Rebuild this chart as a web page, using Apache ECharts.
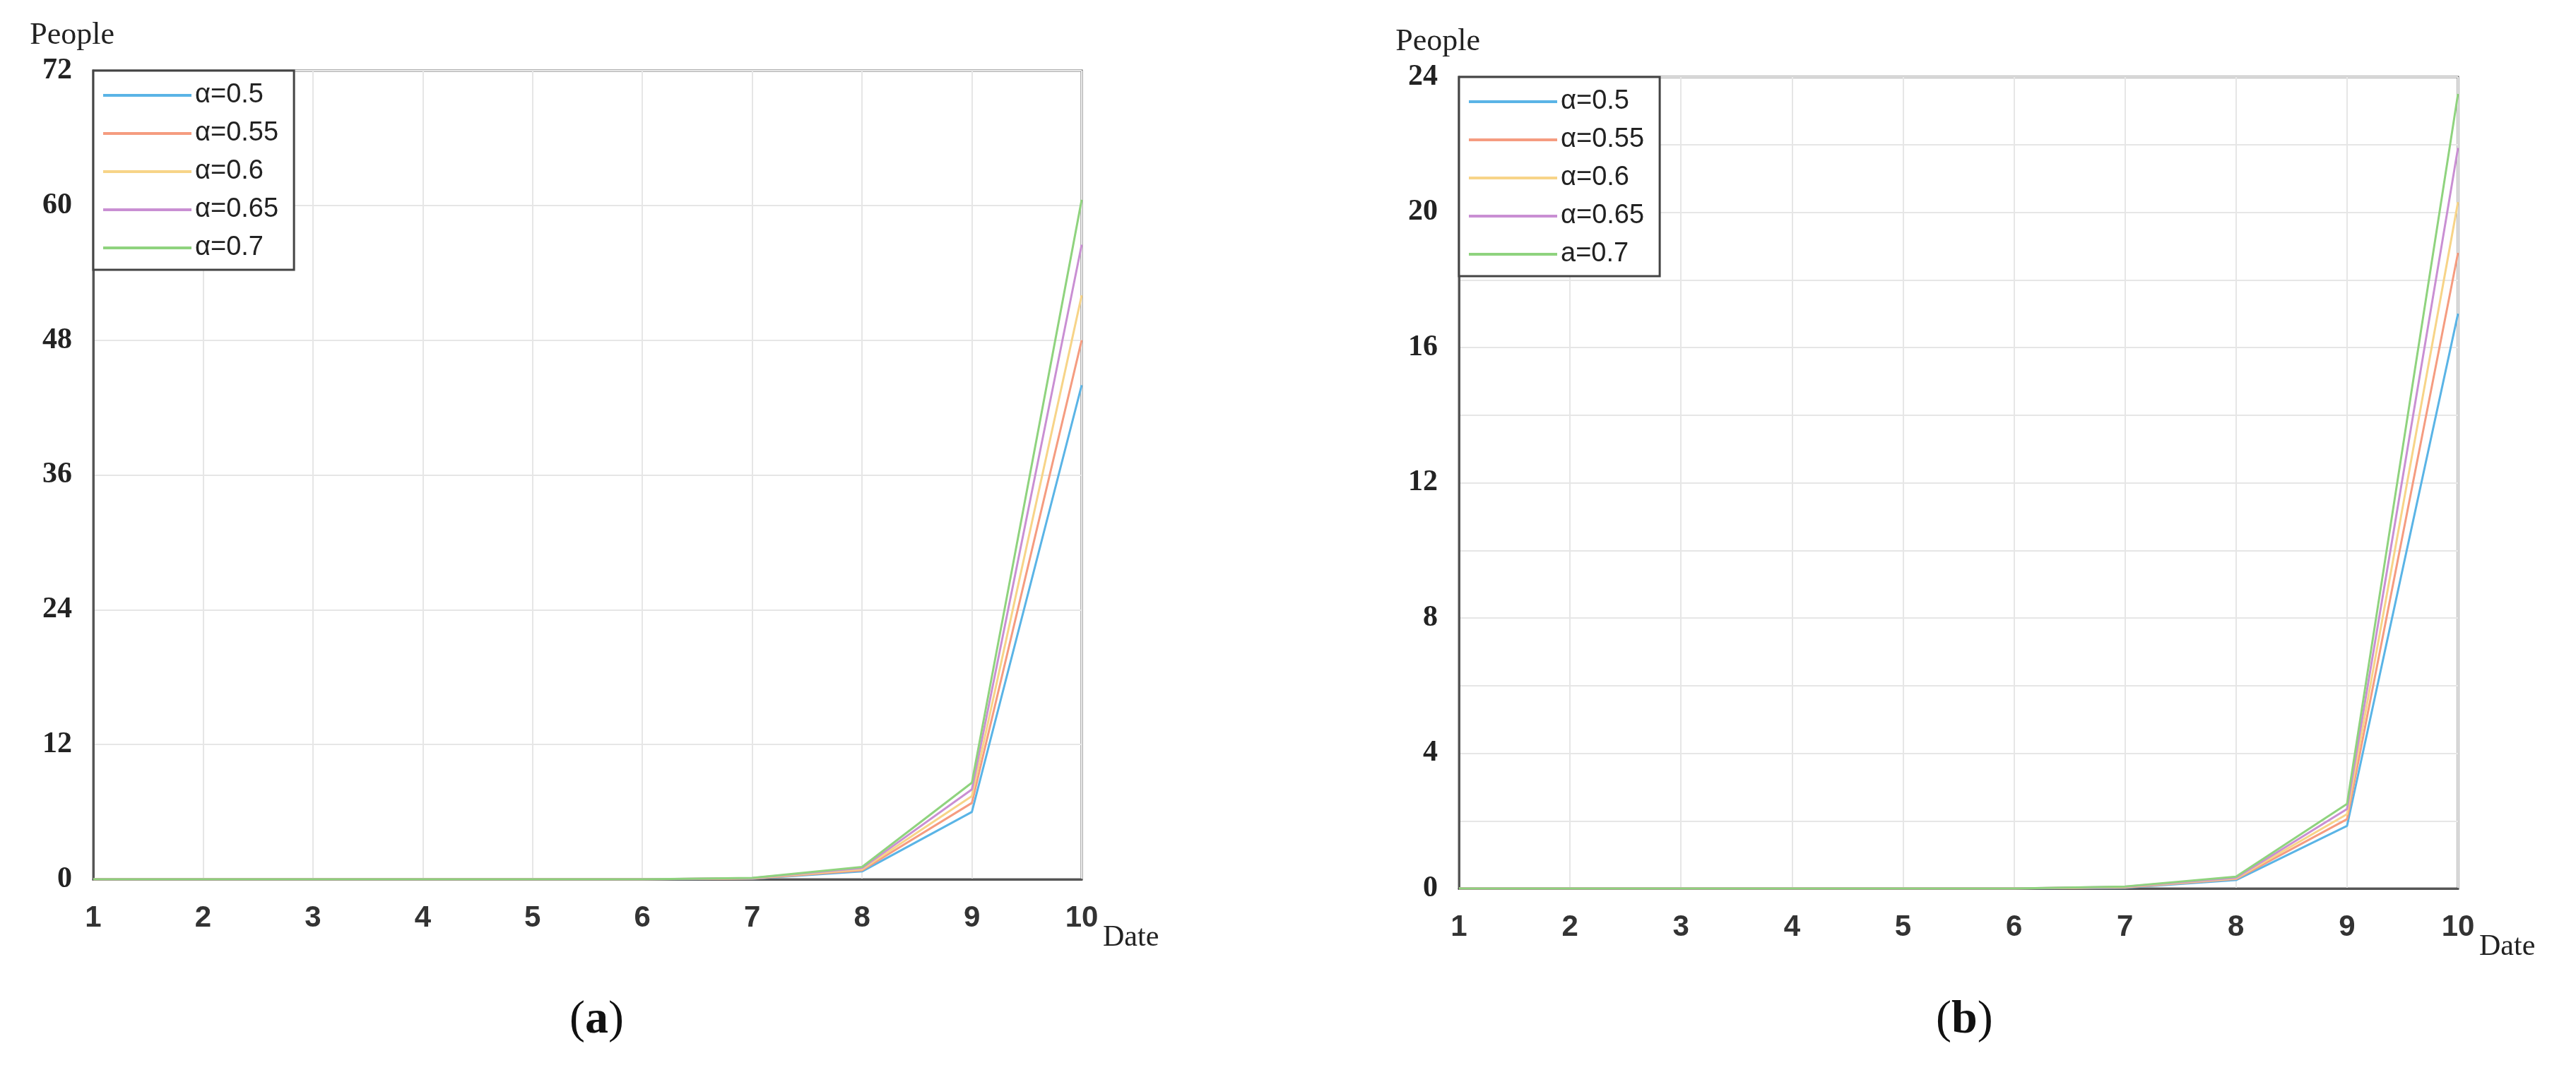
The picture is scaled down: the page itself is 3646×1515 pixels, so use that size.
<!DOCTYPE html>
<html lang="en">
<head>
<meta charset="UTF-8">
<title>People vs Date</title>
<script src="https://cdn.jsdelivr.net/npm/echarts@6/dist/echarts.min.js"></script>
<style>
  body { margin: 0; background: #fff; }
  #chart { width: 3646px; height: 1515px; }
</style>
</head>
<body>
<div id="chart"></div>
<script>
const dates = ['1', '2', '3', '4', '5', '6', '7', '8', '9', '10'];
const namesA = ['α=0.5', 'α=0.55', 'α=0.6', 'α=0.65', 'α=0.7'];
const namesB = ['α=0.5', 'α=0.55', 'α=0.6', 'α=0.65', 'a=0.7'];
const colors = ['#5ab4e6', '#f59c80', '#f7d488', '#c98fd3', '#8fd37e'];

// panel (a)
const a05  = [0, 0, 0, 0, 0, 0, 0.05, 0.7, 6.0, 44];
const a055 = [0, 0, 0, 0, 0, 0, 0.07, 0.8, 6.8, 48];
const a06  = [0, 0, 0, 0, 0, 0, 0.09, 0.9, 7.4, 52];
const a065 = [0, 0, 0, 0, 0, 0, 0.11, 1.0, 8.0, 56.5];
const a07  = [0, 0, 0, 0, 0, 0, 0.13, 1.1, 8.6, 60.5];
// panel (b)
const b05  = [0, 0, 0, 0, 0, 0, 0.02, 0.25, 1.85, 17];
const b055 = [0, 0, 0, 0, 0, 0, 0.03, 0.28, 2.05, 18.8];
const b06  = [0, 0, 0, 0, 0, 0, 0.04, 0.3, 2.2, 20.3];
const b065 = [0, 0, 0, 0, 0, 0, 0.05, 0.32, 2.35, 21.9];
const b07  = [0, 0, 0, 0, 0, 0, 0.06, 0.35, 2.5, 23.5];

const seriesA = [a05, a055, a06, a065, a07];
const seriesB = [b05, b055, b06, b065, b07];

const serifLabel = { fontFamily: 'Liberation Serif', fontWeight: 'bold', fontSize: 42, color: '#222' };
const sansLabel = { fontFamily: 'Liberation Sans', fontWeight: 'bold', fontSize: 42, color: '#333' };

function xAxis(idx) {
  return {
    type: 'category', gridIndex: idx, data: dates, boundaryGap: false,
    axisLine: { lineStyle: { color: '#555', width: 3 } },
    axisTick: { show: false },
    axisLabel: Object.assign({ margin: 34 }, sansLabel),
    splitLine: { show: true, lineStyle: { color: '#e6e6e6', width: 2 } },
    name: 'Date', nameLocation: 'end', nameGap: 30,
    nameTextStyle: { fontFamily: 'Liberation Serif', fontSize: 42, color: '#222', verticalAlign: 'top', padding: [62, 0, 0, 0] }
  };
}

function yAxis(idx, max, interval, labelStep) {
  return {
    type: 'value', gridIndex: idx, min: 0, max: max, interval: interval,
    axisLine: { show: true, lineStyle: { color: '#555', width: 3 } },
    axisTick: { show: false },
    axisLabel: Object.assign({
      margin: 30,
      formatter: v => (v % labelStep === 0 ? String(v) : '')
    }, serifLabel),
    splitLine: { show: true, lineStyle: { color: '#e6e6e6', width: 2 } },
    name: 'People', nameLocation: 'end', nameGap: 28,
    nameTextStyle: { fontFamily: 'Liberation Serif', fontSize: 44, color: '#222', align: 'right', padding: [0, -30, 0, 0] }
  };
}

function makeSeries(data, names, idx) {
  return data.map((d, i) => ({
    name: names[i], type: 'line', data: d,
    xAxisIndex: idx, yAxisIndex: idx,
    showSymbol: false, smooth: false,
    lineStyle: { color: colors[i], width: 3 },
    itemStyle: { color: colors[i] },
    z: 3
  }));
}

function legend(idx, names, left, top) {
  return {
    data: names.map(n => ({ name: n })),
    orient: 'vertical', left: left, top: top,
    itemWidth: 125, itemHeight: 4, itemGap: 16,
    padding: [16, 22, 12, 14],
    borderColor: '#444', borderWidth: 3, backgroundColor: '#fff',
    icon: 'rect',
    textStyle: { fontFamily: 'Liberation Sans', fontSize: 38, color: '#222' },
    selectedMode: false
  };
}

const parenStyle = {
  fontFamily: 'Liberation Serif', fontSize: 66, fill: '#111',
  rich: { b: { fontFamily: 'Liberation Serif', fontSize: 66, fontWeight: 'bold' } }
};

const chart = echarts.init(document.getElementById('chart'));
chart.setOption({
  animation: false,
  backgroundColor: '#fff',
  grid: [
    { left: 132, top: 100, width: 1399, height: 1145, show: true, borderColor: '#666', borderWidth: 3 },
    { left: 2065, top: 109, width: 1414, height: 1149, show: true, borderColor: '#666', borderWidth: 3 }
  ],
  xAxis: [xAxis(0), xAxis(1)],
  yAxis: [yAxis(0, 72, 12, 12), yAxis(1, 24, 2, 4)],
  legend: [legend(0, namesA, 132, 100), legend(1, namesB, 2065, 109)],
  series: makeSeries(seriesA, namesA, 0).concat(makeSeries(seriesB, namesB, 1)),
  graphic: [
    { type: 'text', left: 806, top: 1412, style: Object.assign({ text: '({b|a})' }, parenStyle) },
    { type: 'text', left: 2740, top: 1412, style: Object.assign({ text: '({b|b})' }, parenStyle) }
  ]
});
</script>
</body>
</html>
